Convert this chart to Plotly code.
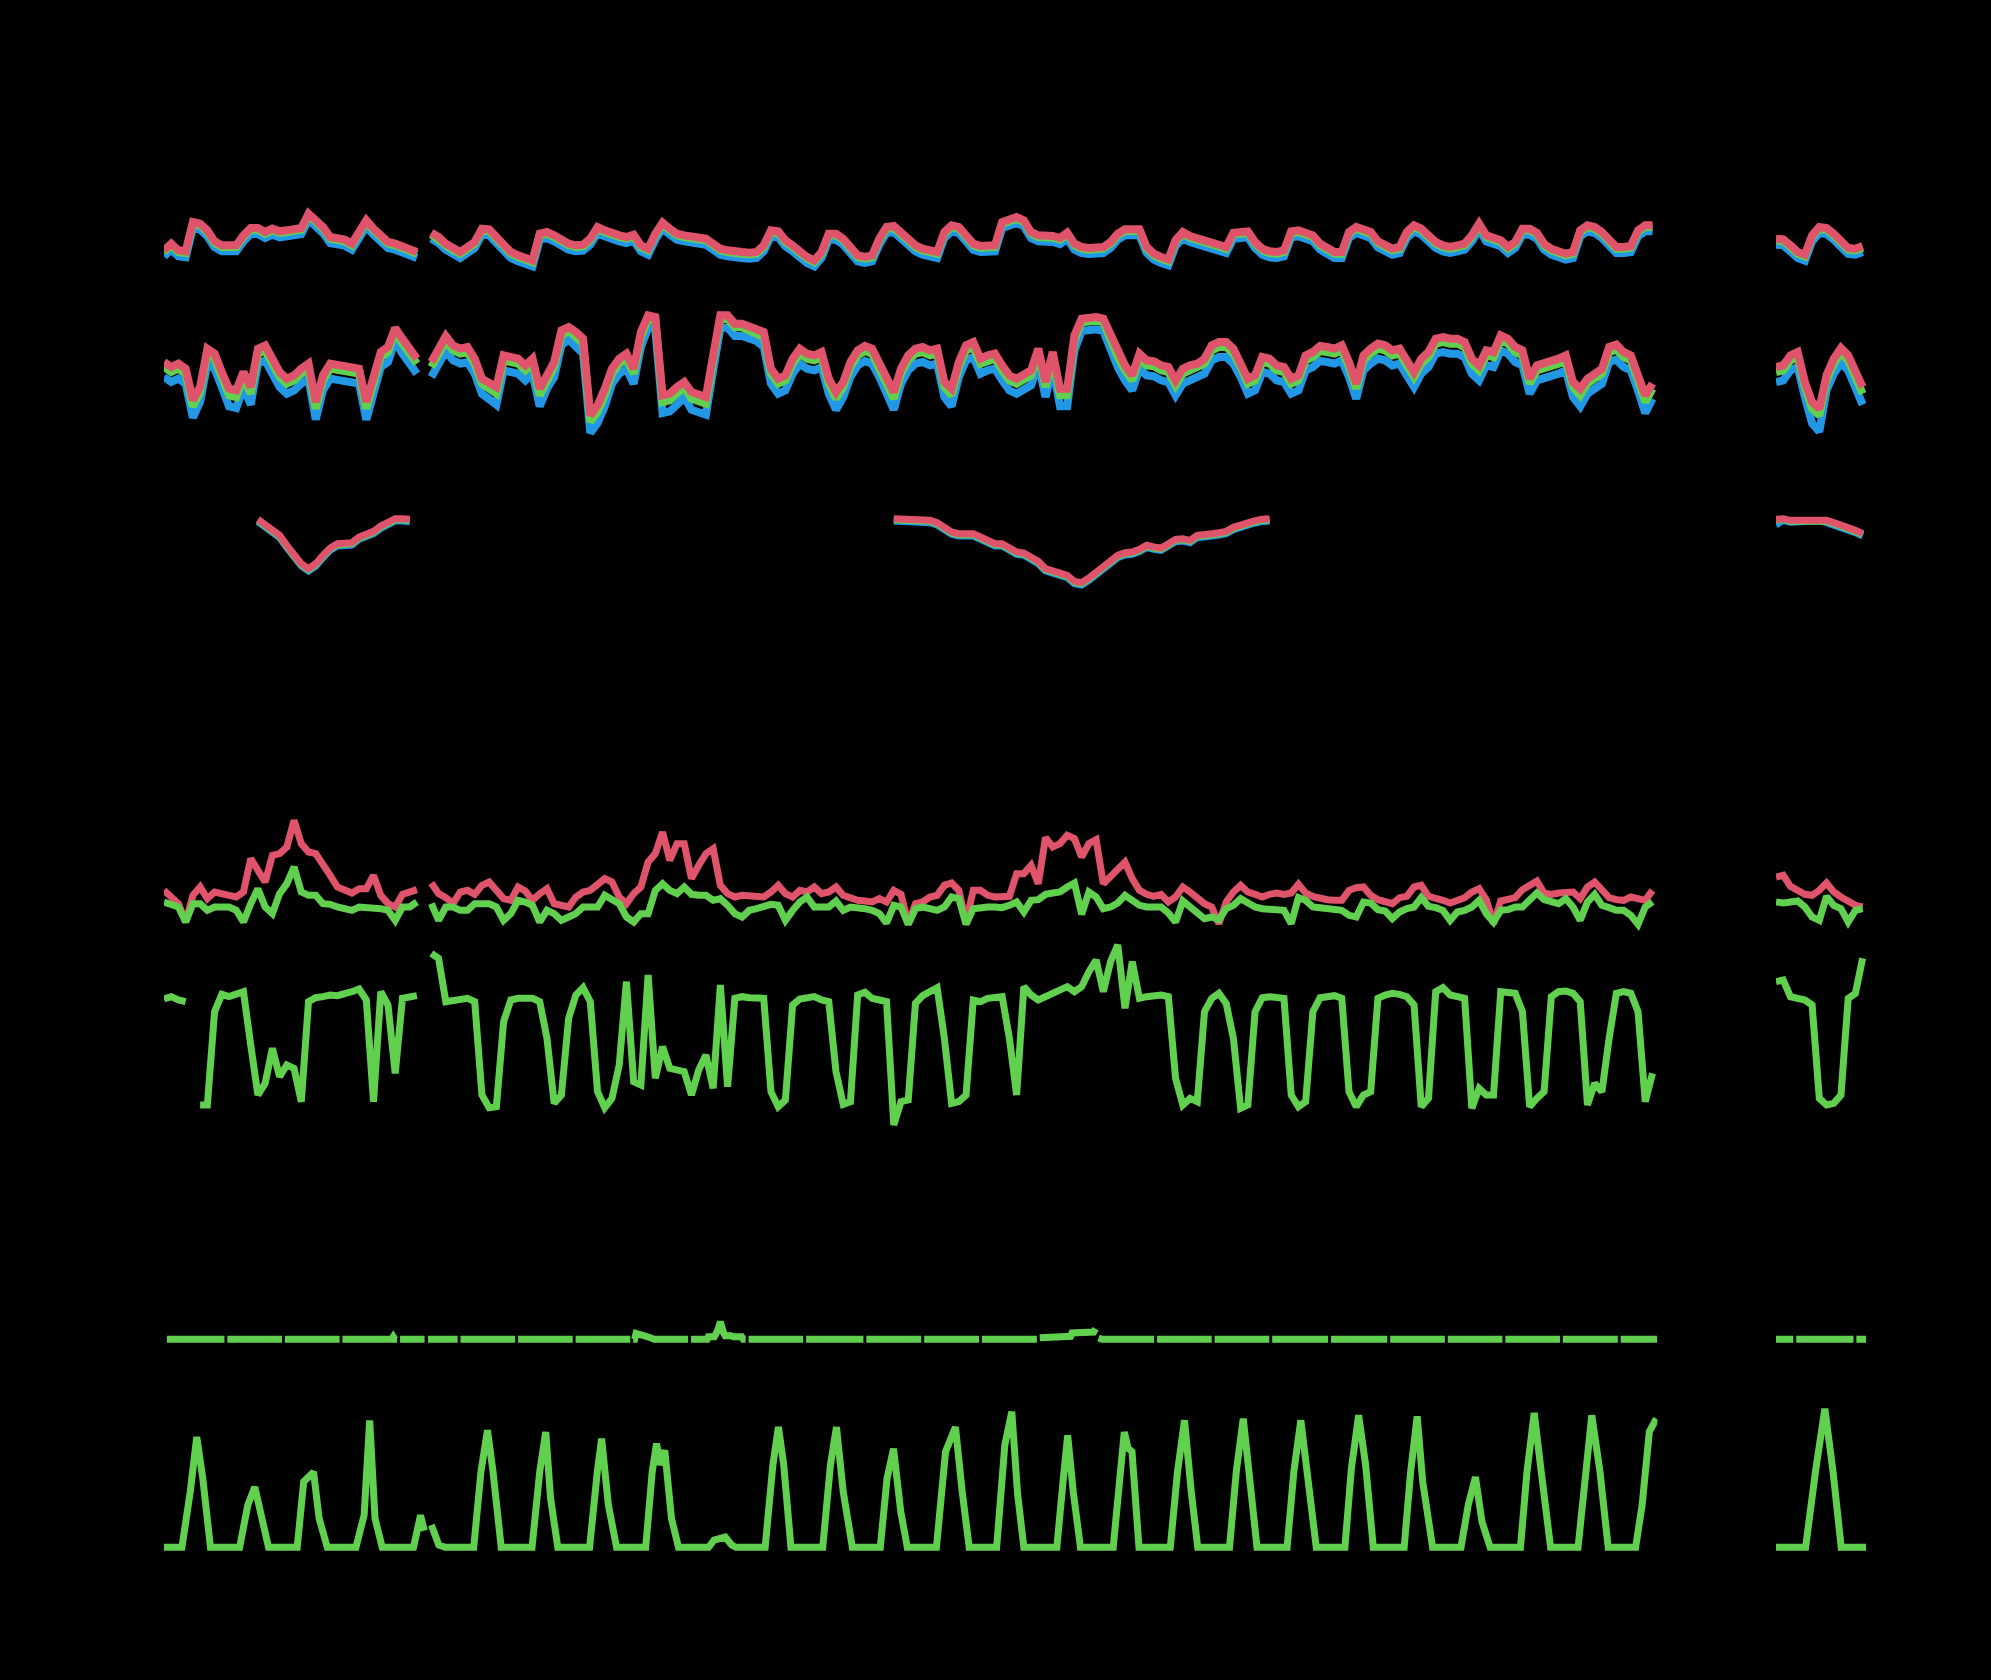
import plotly.graph_objects as go

W, H = 1991, 1680
BLUE, GREEN, RED = "#2297E6", "#61D04F", "#DF536B"
LW = 7            # line width for most panels
LW_TOP = 8        # slightly heavier lines in the two upper panels
STEP = 3          # hours between samples
RIGHT_START = 714 # first hour of the right-hand panel

# ---------------- Row 1 (three series) ----------------
r1_red = [4.9, 6.9, 4.9, 4.6, 13.4, 12.9, 10.9, 7.6, 6.4, 6.2,
 6.4, 9.4, 11.6, 11.6, 10.4, 11.4, 10.6, 10.9, 11.4, 11.6,
 15.9, 13.9, 11.9, 8.9, 8.4, 8.1, 6.9, 10.4, 13.9, 11.4,
 9.4, 7.4, 6.9, 5.9, 4.9, 4.4, None, 10.2, 8.9, 6.9,
 5.4, 4.4, 5.9, 7.4, 11.4, 11.2, 8.9, 6.9, 4.4, 3.4,
 2.6, 1.9, 9.9, 10.4, 9.4, 7.9, 6.9, 6.4, 6.6, 8.4,
 11.9, 10.9, 9.9, 9.4, 8.9, 9.6, 6.4, 5.4, 9.9, 13.2,
 11.4, 9.9, 9.4, 9.2, 9.2, 8.4, 6.9, 5.4, 4.9, 4.4,
 4.4, 4.2, 4.4, 6.4, 10.9, 10.6, 7.9, 6.4, 4.4, 2.9,
 1.9, 4.4, 9.9, 9.9, 8.4, 5.4, 3.4, 2.9, 3.4, 8.4,
 11.9, 12.2, 10.4, 8.4, 6.4, 5.4, 4.9, 4.4, 10.4, 12.4,
 11.9, 9.4, 6.9, 6.2, 6.2, 6.4, 13.4, 14.2, 14.9,
 13.9, 10.4, 9.4, 9.4, 9.2, 8.6, 10.2, 6.9, 5.9, 5.6,
 5.9, 5.9, 7.4, 9.9, 11.2, 11.4, 11.2, 5.9, 3.9, 2.9,
 2.2, 8.0, 10.4, 9.2, 8.6, 7.9, 7.2, 6.6, 5.9, 10.2,
 10.6, 10.6, 7.4, 5.4, 4.6, 4.4, 4.9, 10.6, 10.9, 10.4,
 9.4, 6.9, 5.4, 4.4, 4.4, 10.4, 11.9, 11.2, 10.4, 7.6,
 6.4, 5.4, 5.9, 10.4, 12.4, 11.4, 9.4, 7.4, 6.4, 5.9,
 6.4, 6.9, 9.4, 12.9, 9.4, 8.9, 7.9, 5.9, 7.4, 11.4,
 11.4, 10.2, 6.9, 5.4, 4.4, 3.9, 4.4, 10.9, 12.4, 11.9,
 10.4, 7.9, 5.9, 5.9, 6.2, 10.9, 12.4, 12.4]
r1_green = [4.4, 6.4, 4.4, 4.1, 12.9, 12.4, 10.4, 7.1, 5.9, 5.7,
 5.9, 8.9, 11.1, 11.1, 9.9, 10.9, 10.1, 10.4, 10.9, 11.1,
 15.4, 13.4, 11.4, 8.4, 7.9, 7.6, 6.4, 9.9, 13.4, 10.9,
 8.9, 6.9, 6.4, 5.4, 4.4, 3.9, None, 9.7, 8.4, 6.4,
 4.9, 3.9, 5.4, 6.9, 10.9, 10.7, 8.4, 6.4, 3.9, 2.9,
 2.1, 1.4, 9.4, 9.9, 8.9, 7.4, 6.4, 5.9, 6.1, 7.9,
 11.4, 10.4, 9.4, 8.9, 8.4, 9.1, 5.9, 4.9, 9.4, 12.7,
 10.9, 9.4, 8.9, 8.7, 8.7, 7.9, 6.4, 4.9, 4.4, 3.9,
 3.9, 3.7, 3.9, 5.9, 10.4, 10.1, 7.4, 5.9, 3.9, 2.4,
 1.4, 3.9, 9.4, 9.4, 7.9, 4.9, 2.9, 2.4, 2.9, 7.9,
 11.4, 11.7, 9.9, 7.9, 5.9, 4.9, 4.4, 3.9, 9.9, 11.9,
 11.4, 8.9, 6.4, 5.7, 5.7, 5.9, 12.9, 13.7, 14.4,
 13.4, 9.9, 8.9, 8.9, 8.7, 8.1, 9.7, 6.4, 5.4, 5.1,
 5.4, 5.4, 6.9, 9.4, 10.7, 10.9, 10.7, 5.4, 3.4, 2.4,
 1.7, 7.5, 9.9, 8.7, 8.1, 7.4, 6.7, 6.1, 5.4, 9.7,
 10.1, 10.1, 6.9, 4.9, 4.1, 3.9, 4.4, 10.1, 10.4, 9.9,
 8.9, 6.4, 4.9, 3.9, 3.9, 9.9, 11.4, 10.7, 9.9, 7.1,
 5.9, 4.9, 5.4, 9.9, 11.9, 10.9, 8.9, 6.9, 5.9, 5.4,
 5.9, 6.4, 8.9, 12.4, 8.9, 8.4, 7.4, 5.4, 6.9, 10.9,
 10.9, 9.7, 6.4, 4.9, 3.9, 3.4, 3.9, 10.4, 11.9, 11.4,
 9.9, 7.4, 5.4, 5.4, 5.7, 10.4, 11.9, 11.9]
r1_blue = [3.1, 5.1, 3.1, 2.8, 11.6, 11.1, 9.1, 5.8, 4.6, 4.4,
 4.6, 7.6, 9.8, 9.8, 8.6, 9.6, 8.8, 9.1, 9.6, 9.8,
 14.1, 12.1, 10.1, 7.1, 6.6, 6.3, 5.1, 8.6, 12.1, 9.6,
 7.6, 5.6, 5.1, 4.1, 3.1, 2.6, None, 8.4, 7.1, 5.1,
 3.6, 2.6, 4.1, 5.6, 9.6, 9.4, 7.1, 5.1, 2.6, 1.6,
 0.8, 0.1, 8.1, 8.6, 7.6, 6.1, 5.1, 4.6, 4.8, 6.6,
 10.1, 9.1, 8.1, 7.6, 7.1, 7.8, 4.6, 3.6, 8.1, 11.4,
 9.6, 8.1, 7.6, 7.4, 7.4, 6.6, 5.1, 3.6, 3.1, 2.6,
 2.6, 2.4, 2.6, 4.6, 9.1, 8.8, 6.1, 4.6, 2.6, 1.1,
 0.1, 2.6, 8.1, 8.1, 6.6, 3.6, 1.6, 1.1, 1.6, 6.6,
 10.1, 10.4, 8.6, 6.6, 4.6, 3.6, 3.1, 2.6, 8.6, 10.6,
 10.1, 7.6, 5.1, 4.4, 4.4, 4.6, 11.6, 12.4, 13.1,
 12.1, 8.6, 7.6, 7.6, 7.4, 6.8, 8.4, 5.1, 4.1, 3.8,
 4.1, 4.1, 5.6, 8.1, 9.4, 9.6, 9.4, 4.1, 2.1, 1.1,
 0.4, 6.2, 8.6, 7.4, 6.8, 6.1, 5.4, 4.8, 4.1, 8.4,
 8.8, 8.8, 5.6, 3.6, 2.8, 2.6, 3.1, 8.8, 9.1, 8.6,
 7.6, 5.1, 3.6, 2.6, 2.6, 8.6, 10.1, 9.4, 8.6, 5.8,
 4.6, 3.6, 4.1, 8.6, 10.6, 9.6, 7.6, 5.6, 4.6, 4.1,
 4.6, 5.1, 7.6, 11.1, 7.6, 7.1, 6.1, 4.1, 5.6, 9.6,
 9.6, 8.4, 5.1, 3.6, 2.6, 2.1, 2.6, 9.1, 10.6, 10.1,
 8.6, 6.1, 4.1, 4.1, 4.4, 9.1, 10.6, 10.6]
r1_red_R = [8.4, 8.2, 6.4, 4.4, 3.6, 9.4, 11.9, 11.6, 9.9, 7.4, 5.6, 5.4, 6.2]
r1_green_R = [7.9, 7.7, 5.9, 3.9, 3.1, 8.9, 11.4, 11.1, 9.4, 6.9, 5.1, 4.9, 5.7]
r1_blue_R = [6.6, 6.4, 4.6, 2.6, 1.8, 7.6, 10.1, 9.8, 8.1, 5.6, 3.8, 3.6, 4.4]

# ---------------- Row 2 (three series) ----------------
r2_red = [23.4, 21.9, 22.9, 21.4, 12.0, 16.0, 27.4, 25.9, 20.4, 15.4,
 14.9, 20.4, 15.9, 27.4, 28.4, 24.4, 20.4, 18.4, 19.4, 21.4,
 22.9, 11.4, 19.4, 22.9, 22.4, 21.9, 21.9, 21.4, 11.4, 19.4,
 26.4, 27.9, 33.6, 30.4, 27.4, 24.4, None, 23.4, 27.4, 31.2,
 28.4, 27.4, 27.9, 24.4, 18.4, 16.9, 15.9, 25.4, 24.9, 24.4,
 22.4, 24.4, 15.4, 19.9, 23.4, 32.9, 33.9, 32.4, 30.4, 7.4,
 10.4, 15.4, 21.4, 24.4, 25.9, 21.4, 32.4, 37.4, 36.9, 13.4,
 13.9, 15.9, 17.4, 14.4, 13.4, 12.9, 25.4, 37.4, 37.4, 34.9,
 34.9, 33.9, 33.4, 32.4, 21.4, 18.4, 19.4, 24.4, 27.4, 25.9,
 25.4, 26.4, 18.4, 14.4, 17.4, 23.4, 26.9, 28.2, 27.4, 23.4,
 18.4, 14.4, 21.4, 25.4, 27.4, 27.9, 26.9, 27.4, 17.4, 15.4,
 23.4, 28.4, 29.4, 24.4, 25.4, 25.9, 22.4, 19.4, 18.4,
 19.9, 20.9, 27.4, 17.4, 26.4, 15.4, 15.4, 31.4, 36.4, 36.9,
 36.9, 36.4, 31.4, 26.4, 22.4, 19.4, 25.9, 23.9, 23.6, 22.4,
 21.9, 17.9, 21.4, 22.4, 22.9, 24.4, 28.4, 29.4, 29.4, 27.4,
 23.4, 18.4, 19.4, 24.9, 24.4, 22.4, 21.9, 18.4, 19.4, 25.4,
 26.4, 28.2, 27.9, 27.4, 28.4, 23.4, 16.9, 25.4, 27.4, 28.9,
 28.4, 26.9, 27.4, 24.4, 20.4, 24.4, 26.4, 30.4, 30.9, 30.4,
 30.4, 29.4, 24.4, 22.4, 26.9, 26.4, 31.4, 30.4, 27.9, 26.9,
 18.4, 22.4, 22.9, 23.4, 24.4, 25.4, 17.4, 15.4, 18.4, 19.9,
 21.4, 27.9, 28.6, 26.4, 25.4, 19.4, 13.4, 16.9]
r2_green = [21.9, 20.4, 21.4, 19.9, 10.0, 14.5, 25.9, 24.4, 18.9, 13.4,
 12.9, 18.9, 13.9, 25.9, 26.9, 22.9, 18.9, 16.9, 17.9, 19.9,
 21.4, 9.4, 17.9, 21.4, 20.9, 20.4, 20.4, 19.9, 9.4, 17.9,
 24.9, 26.4, 32.5, 28.9, 25.9, 22.9, None, 21.9, 25.9, 29.7,
 26.9, 25.9, 26.4, 22.9, 16.9, 15.4, 13.9, 23.9, 23.4, 22.9,
 20.9, 22.9, 13.4, 18.4, 21.9, 31.4, 32.8, 30.9, 28.9, 5.4,
 8.4, 13.4, 19.9, 22.9, 24.4, 19.9, 30.9, 36.3, 35.8, 11.4,
 11.9, 13.9, 15.9, 12.4, 11.4, 10.9, 23.9, 36.3, 36.3, 33.8,
 33.8, 32.8, 32.3, 30.9, 19.9, 16.9, 17.9, 22.9, 25.9, 24.4,
 23.9, 24.9, 16.9, 12.4, 15.9, 21.9, 25.4, 26.7, 25.9, 21.9,
 16.9, 12.4, 19.9, 23.9, 25.9, 26.4, 25.4, 25.9, 15.9, 13.4,
 21.9, 26.9, 27.9, 22.9, 23.9, 24.4, 20.9, 17.9, 16.9,
 18.4, 19.4, 25.9, 15.9, 24.9, 13.4, 13.4, 29.9, 35.3, 35.8,
 35.8, 35.3, 29.9, 24.9, 20.9, 17.9, 24.4, 22.4, 22.1, 20.9,
 20.4, 16.4, 19.9, 20.9, 21.4, 22.9, 26.9, 27.9, 27.9, 25.9,
 21.9, 16.9, 17.9, 23.4, 22.9, 20.9, 20.4, 16.9, 17.9, 23.9,
 24.9, 26.7, 26.4, 25.9, 26.9, 21.9, 15.4, 23.9, 25.9, 27.4,
 26.9, 25.4, 25.9, 22.9, 18.9, 22.9, 24.9, 28.9, 29.4, 28.9,
 28.9, 27.9, 22.9, 20.9, 25.4, 24.9, 29.9, 28.9, 26.4, 25.4,
 16.9, 20.9, 21.4, 21.9, 22.9, 23.9, 15.9, 13.4, 16.9, 18.4,
 19.9, 26.4, 27.1, 24.9, 23.9, 17.9, 11.4, 15.4]
r2_blue = [18.9, 17.4, 18.4, 16.9, 6.7, 11.5, 22.9, 21.4, 15.9, 10.1,
 9.6, 15.9, 10.6, 22.9, 23.9, 19.9, 15.9, 13.9, 14.9, 16.9,
 18.4, 6.1, 14.9, 18.4, 17.9, 17.4, 17.4, 16.9, 6.1, 14.9,
 21.9, 23.4, 29.9, 25.9, 22.9, 19.9, None, 18.9, 22.9, 26.7,
 23.9, 22.9, 23.4, 19.9, 13.9, 12.4, 10.6, 20.9, 20.4, 19.9,
 17.9, 19.9, 10.1, 15.4, 18.9, 28.4, 30.2, 27.9, 25.9, 2.1,
 5.1, 10.1, 16.9, 19.9, 21.4, 16.9, 27.9, 33.7, 33.2, 8.1,
 8.6, 10.6, 12.9, 9.1, 8.1, 7.6, 20.9, 33.7, 33.7, 31.2,
 31.2, 30.2, 29.7, 27.9, 16.9, 13.9, 14.9, 19.9, 22.9, 21.4,
 20.9, 21.9, 13.9, 9.1, 12.9, 18.9, 22.4, 23.7, 22.9, 18.9,
 13.9, 9.1, 16.9, 20.9, 22.9, 23.4, 22.4, 22.9, 12.9, 10.1,
 18.9, 23.9, 24.9, 19.9, 20.9, 21.4, 17.9, 14.9, 13.9,
 15.4, 16.4, 22.9, 12.9, 21.9, 10.1, 10.1, 26.9, 32.7, 33.2,
 33.2, 32.7, 26.9, 21.9, 17.9, 14.9, 21.4, 19.4, 19.1, 17.9,
 17.4, 13.4, 16.9, 17.9, 18.4, 19.9, 23.9, 24.9, 24.9, 22.9,
 18.9, 13.9, 14.9, 20.4, 19.9, 17.9, 17.4, 13.9, 14.9, 20.9,
 21.9, 23.7, 23.4, 22.9, 23.9, 18.9, 12.4, 20.9, 22.9, 24.4,
 23.9, 22.4, 22.9, 19.9, 15.9, 19.9, 21.9, 25.9, 26.4, 25.9,
 25.9, 24.9, 19.9, 17.9, 22.4, 21.9, 26.9, 25.9, 23.4, 22.4,
 13.9, 17.9, 18.4, 18.9, 19.9, 20.9, 12.9, 10.1, 13.9, 15.4,
 16.9, 23.4, 24.1, 21.9, 20.9, 14.9, 8.1, 12.4]
r2_red_R = [21.9, 22.4, 25.4, 26.4, 17.4, 11.4, 9.4, 19.4, 24.4, 27.6, 25.4, 20.4, 15.9]
r2_green_R = [20.4, 20.9, 23.9, 24.9, 15.9, 9.4, 7.4, 17.9, 22.9, 26.1, 23.9, 18.9, 13.9]
r2_blue_R = [17.4, 17.9, 20.9, 21.9, 12.9, 5.0, 2.5, 14.9, 19.9, 23.1, 20.9, 15.9, 10.6]

# ---------------- Row 3 (three series, two stretches) ----------------
r3_red_a = [24.2, 22.4, 20.6, 19.4, 16.4, 13.4, 10.9, 9.4, 10.9, 13.4, 15.6, 16.9, 16.9, 17.2, 18.9, 19.9, 20.6, 22.2, 23.4, 24.4, 24.4, 24.2]
r3_green_a = [23.9, 22.1, 20.3, 19.1, 16.1, 13.1, 10.6, 9.1, 10.6, 13.1, 15.3, 16.6, 16.6, 16.9, 18.6, 19.6, 20.3, 21.9, 23.1, 24.1, 24.1, 23.9]
r3_blue_a = [23.5, 21.7, 19.9, 18.7, 15.7, 12.7, 10.2, 8.7, 10.2, 12.7, 14.9, 16.2, 16.2, 16.5, 18.2, 19.2, 19.9, 21.5, 22.7, 23.7, 23.7, 23.5]
r3_red_b = [24.4, 24.4, 24.4, 24.4, 24.2, 23.9, 23.2, 21.9, 20.4, 19.9,
 19.9, 19.9, 18.9, 17.6, 16.9, 16.9, 15.9, 14.4, 14.1, 12.9,
 11.6, 9.4, 8.7, 8.4, 7.4, 5.6, 5.2, 6.6, 8.2, 9.9,
 11.6, 13.4, 14.2, 14.4, 15.2, 16.4, 15.9, 15.6, 16.9, 18.2,
 18.4, 17.9, 19.4, 19.9, 19.9, 20.2, 20.6, 21.8, 22.6, 23.2,
 23.8, 24.2, 24.4]
r3_green_b = [24.1, 24.1, 24.1, 24.1, 23.9, 23.6, 22.9, 21.6, 20.1, 19.6,
 19.6, 19.6, 18.6, 17.3, 16.6, 16.6, 15.6, 14.1, 13.8, 12.6,
 11.3, 9.1, 8.4, 8.1, 7.1, 5.3, 4.9, 6.3, 7.9, 9.6,
 11.3, 13.1, 13.9, 14.1, 14.9, 16.1, 15.6, 15.3, 16.6, 17.9,
 18.1, 17.6, 19.1, 19.6, 19.6, 19.9, 20.3, 21.5, 22.3, 22.9,
 23.5, 23.9, 24.1]
r3_blue_b = [23.7, 23.7, 23.7, 23.7, 23.5, 23.2, 22.5, 21.2, 19.7, 19.2,
 19.2, 19.2, 18.2, 16.9, 16.2, 16.2, 15.2, 13.7, 13.4, 12.2,
 10.9, 8.7, 8.0, 7.7, 6.7, 4.9, 4.5, 5.9, 7.5, 9.2,
 10.9, 12.7, 13.5, 13.7, 14.5, 15.7, 15.2, 14.9, 16.2, 17.5,
 17.7, 17.2, 18.7, 19.2, 19.2, 19.5, 19.9, 21.1, 21.9, 22.5,
 23.1, 23.5, 23.7]
r3_start_a, r3_start_b = 13, 101   # sample index where each stretch begins
r3_red_R = [24.2, 24.4, 23.9, 23.9, 24.4, 24.4, 24.4, 23.9, 23.2, 22.6, 21.9, 20.9, 19.9]
r3_green_R = [24.0, 24.1, 23.6, 23.6, 24.1, 24.1, 24.1, 23.6, 22.9, 22.3, 21.6, 20.6, 19.6]
r3_blue_R = [22.5, 23.9, 23.3, 23.3, 23.8, 23.8, 23.8, 23.2, 22.5, 21.9, 21.2, 20.2, 19.2]

# ---------------- Row 5 (two series) ----------------
r5_red = [14.4, 12.6, 10.4, 4.9, 12.9, 15.4, 11.9, 13.9, 13.2, 12.9,
 12.4, 13.9, 23.9, 20.4, 16.9, 24.9, 25.4, 27.4, 35.4, 28.4,
 25.9, 25.4, 22.4, 18.9, 15.4, 14.4, 13.6, 14.9, 14.9, 18.9,
 12.9, 10.4, 9.4, 13.2, 13.9, 14.6, None, 16.6, 13.4, 12.2,
 10.4, 13.9, 14.4, 13.2, 15.9, 16.9, 14.4, 11.9, 11.4, 15.4,
 14.2, 11.4, 13.4, 14.9, 10.4, 9.9, 9.4, 12.4, 13.9, 14.4,
 15.9, 17.9, 16.9, 12.4, 10.4, 13.4, 15.4, 22.9, 25.4, 31.9,
 23.4, 28.4, 28.4, 17.9, 21.9, 25.4, 26.9, 15.9, 13.4, 12.4,
 12.9, 12.9, 12.4, 12.4, 13.9, 15.9, 13.4, 12.4, 14.4, 13.9,
 15.4, 13.4, 13.9, 15.4, 12.9, 11.9, 11.4, 11.2, 10.9, 11.9,
 10.9, 14.4, 13.2, 4.4, 10.4, 10.9, 12.4, 12.9, 15.9, 16.6,
 14.4, 4.9, 14.4, 14.4, 12.9, 12.4, 12.4, 12.6, 19.4,
 19.4, 21.9, 16.4, 30.2, 27.4, 28.4, 30.9, 29.9, 24.4, 28.4,
 29.6, 16.4, 18.4, 20.4, 22.9, 17.9, 14.4, 13.2, 12.6, 13.2,
 10.9, 12.4, 15.4, 13.9, 12.2, 10.4, 9.4, 4.4, 10.9, 13.9,
 15.9, 13.9, 13.2, 12.4, 13.2, 13.6, 13.2, 13.6, 16.2, 13.6,
 12.6, 11.9, 11.6, 11.4, 11.4, 14.4, 15.2, 15.4, 12.9, 11.6,
 10.9, 10.4, 12.2, 12.6, 15.4, 15.9, 12.6, 12.2, 11.4, 10.6,
 11.4, 12.2, 13.9, 14.9, 11.6, 4.4, 11.2, 11.9, 12.2, 14.6,
 16.2, 17.2, 13.6, 13.2, 13.6, 13.6, 13.9, 11.9, 15.4, 16.9,
 14.4, 12.2, 11.6, 11.4, 12.4, 11.9, 11.4, 14.4]
r5_green = [10.9, 9.9, 9.4, 4.9, 10.4, 10.4, 8.4, 9.4, 9.4, 9.4,
 8.4, 4.9, 10.4, 14.9, 9.4, 7.4, 13.4, 16.4, 21.4, 13.9,
 12.9, 12.9, 10.4, 10.2, 9.4, 8.9, 8.4, 9.4, 9.4, 9.4,
 8.9, 8.4, 5.4, 9.4, 9.4, 10.9, None, 10.4, 5.4, 9.4,
 9.4, 8.4, 8.4, 10.4, 10.4, 10.4, 9.4, 5.4, 7.4, 11.4,
 10.9, 9.9, 4.9, 8.4, 7.4, 5.4, 6.4, 7.4, 9.4, 9.4,
 9.4, 12.9, 11.4, 10.4, 6.4, 4.9, 7.4, 7.4, 14.4, 16.4,
 14.4, 13.4, 15.4, 13.2, 12.9, 12.9, 11.4, 11.9, 9.9, 7.4,
 6.4, 8.4, 8.9, 9.4, 10.2, 9.9, 5.4, 8.4, 10.9, 12.4,
 9.4, 9.4, 9.4, 11.2, 8.4, 9.4, 9.4, 8.9, 8.4, 7.4,
 4.6, 9.9, 9.4, 4.2, 8.9, 9.4, 8.9, 8.4, 9.4, 12.4,
 11.9, 4.2, 8.9, 9.4, 9.4, 9.4, 9.2, 9.9, 10.9,
 7.9, 11.4, 11.6, 13.2, 13.6, 13.9, 15.4, 16.6, 7.2, 13.9,
 12.4, 8.9, 9.4, 10.6, 12.9, 11.4, 9.9, 9.4, 9.2, 9.4,
 7.6, 4.9, 11.2, 9.4, 7.6, 5.9, 6.4, 5.6, 8.9, 9.9,
 11.9, 10.4, 9.4, 8.9, 8.9, 8.4, 8.4, 4.4, 12.2, 11.4,
 9.4, 9.2, 8.9, 8.9, 8.4, 6.9, 6.4, 10.9, 10.6, 8.6,
 8.2, 5.9, 7.9, 8.9, 9.4, 12.2, 9.6, 9.2, 8.4, 5.4,
 7.9, 8.4, 9.4, 11.4, 7.4, 4.9, 8.4, 8.6, 9.4, 9.4,
 11.9, 13.6, 11.6, 11.2, 10.4, 11.9, 9.4, 5.4, 10.9, 13.2,
 9.9, 9.2, 8.4, 8.4, 6.9, 4.2, 9.4, 10.9]
r5_red_R = [18.4, 18.9, 15.6, 14.4, 13.2, 12.9, 14.4, 16.6, 13.9, 12.4, 11.2, 9.9, 9.4]
r5_green_R = [10.9, 10.6, 10.9, 11.2, 9.4, 6.4, 5.4, 12.6, 9.9, 8.9, 4.9, 8.4, 8.9]

# ---------------- Row 6 (one series) ----------------
r6_green = [41.8, 42.5, 41.5, 41.0, None, 10.0, 10.0, 38.0, 43.2, 42.5,
 43.0, 44.0, 28.0, 13.0, 16.5, 27.0, 18.5, 22.0, 21.0, 11.0,
 41.0, 42.2, 42.5, 43.0, 42.8, 43.2, 44.0, 44.8, 41.5, 11.0,
 44.0, 40.0, 19.5, 42.0, 42.5, 42.8, None, 55.5, 54.0, 41.0,
 41.5, 41.5, 42.0, 41.0, 13.0, 9.2, 9.5, 35.0, 41.5, 42.0,
 42.2, 42.0, 41.0, 30.0, 10.5, 13.0, 36.0, 43.0, 45.2, 41.0,
 14.0, 9.2, 12.0, 22.0, 47.0, 17.0, 16.0, 49.0, 18.0, 27.5,
 21.0, 20.5, 20.0, 13.0, 20.5, 25.0, 15.0, 46.0, 15.5, 42.0,
 42.5, 42.2, 42.0, 42.0, 14.0, 9.5, 11.5, 40.0, 41.8, 42.2,
 42.5, 41.5, 41.0, 20.0, 10.2, 11.0, 43.0, 43.8, 42.0, 41.5,
 41.0, 4.0, 11.0, 11.5, 40.5, 42.8, 44.0, 45.2, 30.0, 10.5,
 11.0, 13.0, 41.5, 41.0, 42.0, 42.5, 42.5, 30.0, 13.0,
 45.5, 43.0, 41.5, 42.5, 43.5, 44.5, 45.5, 44.0, 45.5, 50.0,
 53.5, 44.0, 53.0, 58.0, 39.0, 53.0, 42.0, 42.5, 42.8, 43.0,
 42.5, 18.0, 10.0, 12.0, 11.0, 38.0, 42.0, 43.5, 40.5, 30.0,
 9.0, 10.0, 38.0, 42.2, 42.5, 42.2, 42.0, 13.0, 9.5, 11.0,
 38.0, 42.2, 42.5, 42.8, 42.0, 14.0, 9.5, 13.0, 14.0, 42.0,
 43.0, 43.5, 43.2, 42.5, 40.0, 9.5, 12.0, 44.0, 45.2, 43.0,
 42.5, 42.0, 9.0, 15.0, 13.0, 13.0, 44.0, 44.0, 43.5, 38.0,
 9.5, 12.0, 14.0, 42.5, 44.0, 44.2, 43.5, 41.0, 10.0, 16.5,
 14.0, 30.0, 43.5, 44.0, 43.5, 38.0, 11.0, 19.5]
r6_green_R = [47.0, 47.5, 42.5, 42.0, 41.5, 40.0, 12.0, 10.0, 10.5, 13.0, 42.0, 43.5, 54.0]

# ---------------- Row 8 (one series, explicit hour / value pairs) ----------------
r8_hours = [1.2, 25.1, None, 26.3, 49.0, None, 50.2, 72.9, None,
 74.1, 94.5, 95.2, 95.9, 96.8, None, 98.0, 108.2, None, 109.6, 121.9, None,
 123.1, 145.8, None, 147.0, 169.7, None, 170.9, 193.6, None,
 194.8, 195.4, 196.0, 198.0, 200.0, 202.0, 203.5, 217.6, None,
 218.8, 225.5, 226.0, 228.5, 229.8, 231.0, 232.3, 233.0, 235.3, 236.4, 239.8, 240.5, 241.5, None,
 242.7, 265.4, None, 266.6, 290.4, None, 291.6, 314.4, None, 315.6, 338.4, None,
 339.6, 362.4, None,
 363.6, 368.4, 369.0, 376.4, 377.0, 383.0, 384.0, 386.0, 386.8, None,
 388.0, 389.5, 411.1, None, 412.3, 435.0, None, 436.2, 458.9, None, 460.1, 483.3, None,
 484.5, 507.9, None, 509.1, 531.8, None, 533.0, 555.7, None, 556.9, 579.6, None,
 580.8, 603.6, None, 604.8, 620.0]
r8_vals = [0, 0, None, 0, 0, None, 0, 0, None,
 0, 0, 0.8, 0, 0, None, 0, 0, None, 0, 0, None,
 0, 0, None, 0, 0, None, 0, 0, None,
 0, 0, 1.8, 1.5, 1.0, 0.5, 0, 0, None,
 0, 0, 0.8, 0.8, 2.5, 5.3, 2.0, 1.1, 1.1, 0.8, 0.8, 0, 0, None,
 0, 0, None, 0, 0, None, 0, 0, None, 0, 0, None,
 0, 0, None,
 0.5, 0.5, 0.9, 0.9, 1.9, 1.9, 2.2, 2.2, 3.2, None,
 0.4, 0, 0, None, 0, 0, None, 0, 0, None, 0, 0, None,
 0, 0, None, 0, 0, None, 0, 0, None, 0, 0, None,
 0, 0, None, 0, 0]
r8_hours_R = [714.0, 721.2, None, 722.4, 746.2, None, 747.4, 751.4]
r8_vals_R = [0, 0, None, 0, 0, None, 0, 0]

# ---------------- Row 9 (one series, explicit hour / value pairs) ----------------
r9_hours = [0.0, 7.45, 10.9, 13.6, 16.1, 19.3,
 31.4, 34.8, 37.7, 40.5, 43.4,
 55.3, 58.0, 62.1, 64.4, 67.8,
 79.7, 83.1, 85.4, 87.6, 90.6,
 103.6, 106.5, 108.1, None, 111.0, 114.1, 116.8,
 128.6, 131.6, 134.3, 136.6, 140.0,
 152.8, 156.0, 158.5, 160.5, 163.5,
 176.7, 179.9, 181.7, 184.5, 187.9,
 200.0, 202.7, 204.5, 206.1, 207.9, 210.7, 213.6,
 226.1, 228.4, 233.0, 235.7, 237.5,
 249.6, 252.8, 255.1, 257.3, 260.3,
 273.5, 276.7, 279.2, 282.0, 285.8,
 297.4, 300.2, 302.9, 305.9, 308.6,
 320.7, 324.5, 328.6, 331.4, 334.3,
 345.7, 349.1, 352.0, 354.4, 357.0,
 370.7, 373.4, 375.2, 377.5, 380.5,
 394.1, 396.9, 398.7, 400.3, 401.9, 404.8,
 417.8, 420.8, 423.7, 426.5, 429.2,
 442.4, 445.2, 448.1, 450.4, 453.8,
 466.3, 469.1, 472.0, 474.8, 478.4,
 490.3, 493.0, 496.0, 498.9, 502.1,
 514.9, 517.6, 520.3, 522.6, 526.7,
 538.5, 541.5, 544.5, 547.2, 550.6,
 563.2, 565.9, 568.9, 571.8, 575.7,
 587.1, 590.0, 592.8, 596.2, 599.6,
 611.0, 613.7, 616.7, 619.6]
r9_vals = [0, 0, 16.7, 33.1, 20.7, 0,
 0, 12.7, 18.1, 8.7, 0,
 0, 19.7, 22.6, 8.7, 0,
 0, 9.7, 38.1, 8.7, 0,
 0, 9.6, 5.0, None, 6.7, 0.7, 0,
 0, 22.7, 35.1, 22.7, 0,
 0, 22.7, 34.6, 14.7, 0,
 0, 22.7, 32.6, 12.7, 0,
 0, 22.7, 31.1, 24.7, 29.1, 8.7, 0,
 0, 2.2, 3.1, 0.7, 0,
 0, 24.7, 36.1, 24.7, 0,
 0, 24.7, 36.1, 16.7, 0,
 0, 20.7, 29.6, 10.7, 0,
 0, 28.7, 36.1, 16.7, 0,
 0, 30.7, 40.7, 16.0, 0,
 0, 20.7, 33.6, 16.7, 0,
 0, 22.7, 34.6, 29.7, 28.7, 0,
 0, 22.7, 38.1, 16.7, 0,
 0, 22.7, 38.6, 22.7, 0,
 0, 22.7, 38.1, 22.7, 0,
 0, 23.7, 39.6, 24.7, 0,
 0, 22.7, 39.3, 19.7, 0,
 0, 12.7, 21.1, 7.7, 0,
 0, 22.7, 40.3, 22.7, 0,
 0, 22.7, 39.6, 22.7, 0,
 0, 12.7, 34.7, 38.6]
r9_hours_R = [714.0, 726.3, 730.4, 734.3, 737.7, 741.1, 751.4]
r9_vals_R = [0, 0, 22.7, 41.6, 22.7, 0, 0]

# ---------------- helpers ----------------
def grid_left(vals):
    return [STEP * i for i in range(len(vals))]

def grid_right(vals):
    return [RIGHT_START + STEP * i for i in range(len(vals))]

def stretch(vals, start, total=207):
    out = [None] * start + list(vals)
    return out + [None] * (total - len(out))

fig = go.Figure()

def add(x, y, color, xa, ya, width=LW):
    fig.add_trace(go.Scatter(x=x, y=y, mode="lines", connectgaps=False,
                             line=dict(color=color, width=width),
                             xaxis=xa, yaxis=ya, showlegend=False, hoverinfo="skip"))

# row 1
for vals, valsR, col in [(r1_blue, r1_blue_R, BLUE), (r1_green, r1_green_R, GREEN), (r1_red, r1_red_R, RED)]:
    add(grid_left(vals), vals, col, "x", "y", LW_TOP)
    add(grid_right(valsR), valsR, col, "x2", "y", LW_TOP)
# row 2
for vals, valsR, col in [(r2_blue, r2_blue_R, BLUE), (r2_green, r2_green_R, GREEN), (r2_red, r2_red_R, RED)]:
    add(grid_left(vals), vals, col, "x", "y2", LW_TOP)
    add(grid_right(valsR), valsR, col, "x2", "y2", LW_TOP)
# row 3
for a, b, valsR, col in [(r3_blue_a, r3_blue_b, r3_blue_R, BLUE),
                         (r3_green_a, r3_green_b, r3_green_R, GREEN),
                         (r3_red_a, r3_red_b, r3_red_R, RED)]:
    full = stretch(a, r3_start_a)
    full[r3_start_b:r3_start_b + len(b)] = b
    add(grid_left(full), full, col, "x", "y3")
    add(grid_right(valsR), valsR, col, "x2", "y3")
# row 5
for vals, valsR, col in [(r5_red, r5_red_R, RED), (r5_green, r5_green_R, GREEN)]:
    add(grid_left(vals), vals, col, "x", "y4")
    add(grid_right(valsR), valsR, col, "x2", "y4")
# row 6
add(grid_left(r6_green), r6_green, GREEN, "x", "y5")
add(grid_right(r6_green_R), r6_green_R, GREEN, "x2", "y5")
# row 8
add(r8_hours, r8_vals, GREEN, "x", "y6")
add(r8_hours_R, r8_vals_R, GREEN, "x2", "y6")
# row 9
add(r9_hours, r9_vals, GREEN, "x", "y7")
add(r9_hours_R, r9_vals_R, GREEN, "x2", "y7")

# ---------------- layout (pixel geometry of the panels) ----------------
def xdom(a, b):
    return [a / W, b / W]

PX_PER_UNIT = 10 / 3.0
PAD = 3.0   # units of head-room below 0 and above the top so thick lines are not clipped
rows = [  # (axis name, pixel of value 0, top value)
    ("yaxis", 266.67, 20),
    ("yaxis2", 440.0, 40),
    ("yaxis3", 600.0, 30),
    ("yaxis4", 938.33, 40),
    ("yaxis5", 1138.33, 60),
    ("yaxis6", 1339.33, 10),
    ("yaxis7", 1547.33, 45),
]
hidden = dict(visible=False, showgrid=False, zeroline=False, fixedrange=True)
layout = dict(
    width=W, height=H, margin=dict(l=0, r=0, t=0, b=0),
    paper_bgcolor="black", plot_bgcolor="rgba(0,0,0,0)",
    showlegend=False,
    xaxis=dict(domain=xdom(164, 1657.3), range=[0, 620], anchor="y", **hidden),
    xaxis2=dict(domain=xdom(1776, 1866), range=[RIGHT_START, RIGHT_START + 37.4], anchor="y", **hidden),
)
for name, base, top in rows:
    lo, hi = -PAD, top + PAD
    bottom_px = base - lo * PX_PER_UNIT
    top_px = base - hi * PX_PER_UNIT
    layout[name] = dict(domain=[1 - bottom_px / H, 1 - top_px / H], range=[lo, hi],
                        anchor="x", **hidden)
fig.update_layout(**layout)

fig.write_html("out.html", config={"displayModeBar": False},
               post_script="document.body.style.margin='0';document.body.style.background='black';document.body.style.overflow='hidden';")
